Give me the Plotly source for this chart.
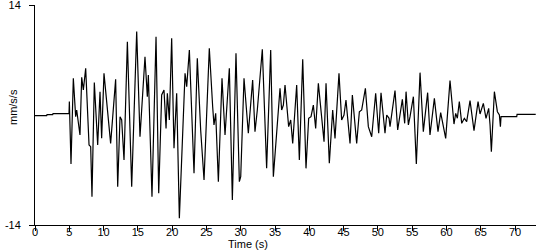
import plotly.graph_objects as go

# Time (s) and acceleration (mm/s/s)
time_s = [0.00, 1.70, 1.75, 2.58, 2.63, 4.96, 5.01, 5.25, 5.59, 5.93, 6.08, 6.56, 6.81, 7.05, 7.39,
          7.88, 8.12, 8.31, 8.65, 9.14, 9.48, 9.72, 10.06, 10.60, 11.03, 11.76, 12.06, 12.40, 12.64,
          12.98, 13.47, 14.10, 14.83, 15.31, 16.04, 16.38, 16.53, 17.06, 17.65, 18.04, 18.47, 18.81,
          19.11, 19.30, 19.59, 19.93, 20.27, 20.66, 21.05, 21.88, 22.12, 22.51, 23.19, 23.67, 24.16,
          24.65, 25.42, 25.91, 26.10, 26.35, 26.74, 27.27, 27.71, 28.34, 28.78, 29.31, 29.80, 30.00,
          30.48, 31.11, 31.45, 31.74, 32.08, 32.42, 33.15, 33.78, 34.37, 34.76, 35.73, 35.97, 36.22,
          36.46, 36.99, 37.29, 37.58, 38.16, 38.55, 39.04, 39.52, 39.91, 40.25, 40.59, 40.93, 41.32,
          42.15, 42.44, 42.92, 43.41, 43.75, 44.33, 44.72, 45.06, 45.35, 45.94, 46.28, 46.91, 47.30,
          47.64, 48.18, 48.61, 49.10, 49.68, 50.12, 50.46, 51.04, 51.29, 51.63, 51.77, 52.50, 52.89,
          53.57, 53.91, 54.11, 54.45, 54.69, 55.18, 55.61, 56.15, 56.63, 57.26, 57.60, 58.24, 58.77,
          59.16, 59.89, 60.52, 61.10, 61.35, 61.59, 61.88, 62.23, 62.61, 62.95, 63.44, 64.02, 64.61,
          64.90, 65.38, 65.77, 66.16, 66.36, 66.55, 66.99, 67.43, 67.72, 67.87, 67.96, 70.25, 70.30,
          73.02]
accel = [-0.08, -0.08, 0.04, 0.04, 0.17, 0.17, 1.70, -6.24, 4.67, -0.21, 0.64, -2.55, 4.79, 3.18, 5.94,
         -3.82, -4.03, -10.39, 4.12, -3.82, 2.97, -2.97, 5.30, 0.21, -3.61, 4.54, -9.12, -0.21, -0.64,
         -5.73, 9.33, -9.12, 10.61, -2.76, 7.42, 2.33, 5.09, -10.39, 9.97, -9.97, 2.55, 3.18,
         -1.70, 2.76, -0.64, 9.76, -4.24, 2.76, -13.15, 5.30, 3.61, 8.27, -7.42, 7.21, -1.91,
         -8.27, 8.49, 1.06, -1.27, 0.21, -8.49, 4.67, -2.55, 5.94, -10.82, 7.85, -8.49, -7.85,
         4.67, -2.33, 1.06, 4.45, -2.12, 0.64, 8.36, -6.79, 8.27, -7.85, 3.39, 0.64, 1.27,
         3.82, -1.48, -0.64, -3.61, 3.82, -5.73, 7.09, -6.79, -0.42, -0.21, 1.27, -1.70, 4.03,
         -3.39, 4.03, -6.15, 0.64, -2.97, 5.30, -0.64, 0.00, 1.91, -3.61, 2.55, -3.61, 0.42,
         0.64, 3.39, -1.48, -2.76, 2.76, -2.33, 2.84, -2.33, 0.00, -0.42, -1.48, 3.10, -1.91,
         1.99, -1.06, 2.97, -1.27, -0.21, 2.33, -6.24, 5.39, -2.12, 2.84, -2.55, 2.12, -2.12,
         0.30, -2.97, 4.37, -1.15, 0.21, -0.42, 1.70, -1.06, -0.42, -0.85, 1.82, -1.99, 1.70,
         0.13, 1.48, -0.42, 0.85, -1.27, -4.67, 2.97, 0.42, 0.00, -1.48, -0.21, -0.21, 0.08,
         0.08]

x_ticks = [0, 5, 10, 15, 20, 25, 30, 35, 40, 45, 50, 55, 60, 65, 70]
y_ticks = [-14, 14]
y_tick_labels = ["-14", "14"]

fig = go.Figure()
fig.add_trace(go.Scatter(x=time_s, y=accel, mode="lines",
                         line=dict(color="black", width=1.2), hoverinfo="skip",
                         showlegend=False))

font = dict(family="Liberation Sans, Arial, sans-serif", size=11, color="black")

fig.update_layout(
    width=550, height=250,
    margin=dict(l=35, r=14, t=5, b=25, autoexpand=False),
    paper_bgcolor="white", plot_bgcolor="white",
    font=font,
    xaxis=dict(range=[0, 73.06], tickvals=x_ticks, ticks="outside", ticklen=5,
               tickcolor="black", showline=True, linecolor="black", linewidth=1,
               showgrid=False, zeroline=False, tickfont=font, ticklabelstandoff=-8,
               ticklabeloverflow="allow", automargin=False),
    yaxis=dict(range=[-14, 14], tickvals=y_ticks, ticktext=y_tick_labels,
               ticks="outside", ticklen=5, tickcolor="black", showline=True,
               linecolor="black", linewidth=1, showgrid=False, zeroline=False,
               tickfont=font, ticklabelstandoff=6, ticklabeloverflow="allow",
               automargin=False),
    annotations=[
        dict(text="Time (s)", xref="paper", yref="paper", x=0.425, y=-0.0886,
             xanchor="center", yanchor="middle", showarrow=False, font=font),
        dict(text="mm/s/s", xref="paper", yref="paper", x=-0.044, y=0.536,
             xanchor="center", yanchor="middle", textangle=-90, showarrow=False, font=font),
    ],
)

fig.write_html("out.html")
